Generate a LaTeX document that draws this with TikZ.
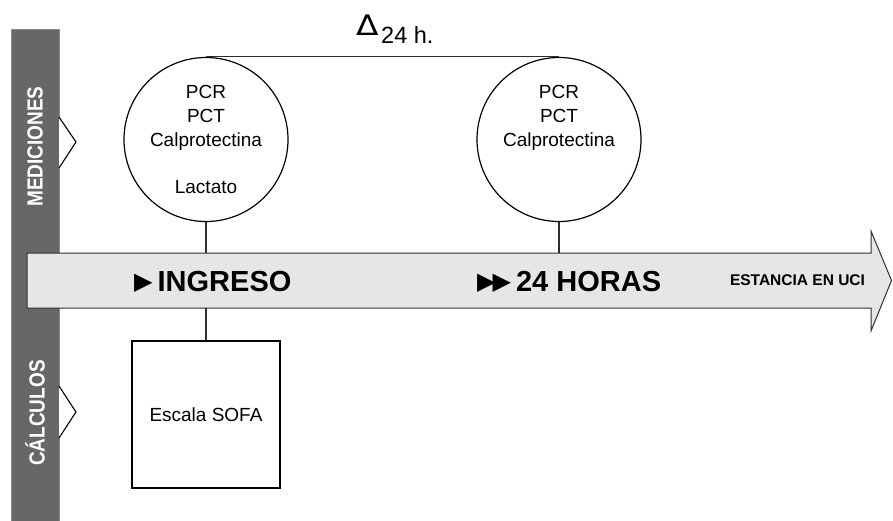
\documentclass[tikz,border=0pt]{standalone}
\usepackage{fontspec}
\setmainfont{Liberation Sans}
\newfontfamily\symfont{DejaVu Sans}
\usepackage{graphicx}
\definecolor{barColor}{HTML}{676767}
\definecolor{barEdgeColor}{HTML}{8C8C8C}
\definecolor{arrowColor}{HTML}{E6E6E6}
\definecolor{edgeColor}{HTML}{2E2E2E}

\begin{document}
\begin{tikzpicture}[x=1pt, y=-1pt,
    meas/.style={circle, draw, line width=1.2pt, minimum size=164pt, inner sep=0pt,
      align=center, font=\fontsize{19}{23.6}\selectfont},
    calcbox/.style={rectangle, draw, line width=1.1pt, minimum width=148pt,
      minimum height=147pt, inner sep=0pt, font=\fontsize{19}{23.6}\selectfont},
    band/.style={rotate=90, text=white, inner sep=0pt,
      font=\bfseries\fontsize{19}{19}\selectfont},
    sidetip/.style={draw, line width=1.1pt, fill=white},
    link/.style={draw=edgeColor, line width=1.1pt},
    stage/.style={anchor=base west, inner sep=0pt,
      font=\bfseries\fontsize{29}{29}\selectfont}]
  \useasboundingbox (0,0) rectangle (893,520);

  % bandas laterales
  \draw[fill=barColor, draw=barEdgeColor, line width=0.6pt] (11,29) rectangle (59,522);
  \node[band] (med) at (35,146.5) {\scalebox{1}[1.15]{MEDICIONES}};
  \node[band] (calc) at (35,413) {\scalebox{1}[1.15]{CÁLCULOS}};
  \draw[sidetip] (59,117) -- (76,142) -- (59,168);
  \draw[sidetip] (59,386) -- (76,412) -- (59,438);

  % mediciones
  \node[meas] (c1) at (206,139.5) {PCR\\PCT\\Calprotectina\\[23.6pt]Lactato};
  \node[meas] (c2) at (559,139.5) {PCR\\PCT\\Calprotectina\\[23.6pt]\mbox{}};
  \draw[link] (c1.north) -- (c2.north);
  \node[anchor=base west, inner sep=0pt, font=\fontsize{23.5}{23.5}\selectfont] (delta) at (356,35)
    {\scalebox{1.4}[1.2]{\symfont Δ}\hspace{2.5pt}\raisebox{-8pt}{24 h.}};

  % calculos
  \node[calcbox] (b1) at (206,414.5) {Escala SOFA};

  % eje de tiempo
  \coordinate (tl) at (27,253);
  \coordinate (bl) at (27,308);
  \draw[link] (c1.south) -- (b1.north);
  \draw[link] (c2.south) -- (c2.south |- bl);
  \draw[fill=arrowColor, draw=edgeColor, line width=1pt]
    (tl) -- (871,253) -- (871,231) -- (891.5,280.5) -- (871,331) -- (871,308) -- (bl) -- cycle;

  \node[stage] (ingreso) at (134,291.5)
    {\raisebox{2pt}{\symfont\fontsize{24}{24}\selectfont ▶}\hspace{5pt}INGRESO};
  \node[stage] (horas) at (477,291.5)
    {\raisebox{2pt}{\symfont\fontsize{24}{24}\selectfont ▶\kern-3pt▶}\hspace{5pt}24 HORAS};
  \node[anchor=base, inner sep=0pt, font=\bfseries\fontsize{15.5}{15.5}\selectfont] (estancia)
    at (797.5,285.7) {ESTANCIA EN UCI};
\end{tikzpicture}
\end{document}
